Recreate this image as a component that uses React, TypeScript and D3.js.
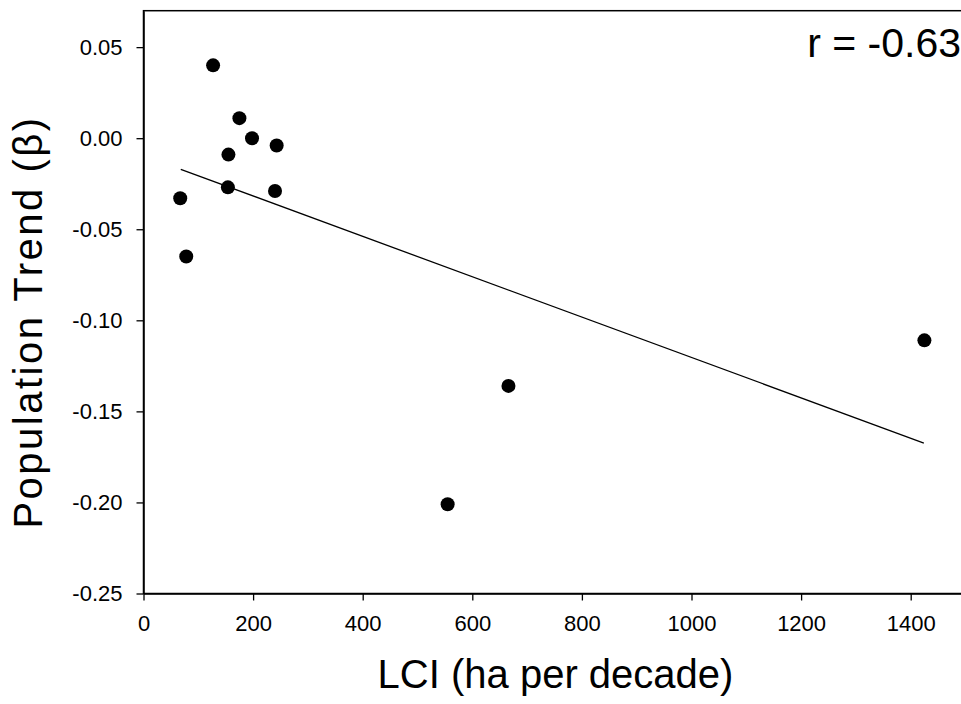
import React, { useEffect, useRef } from 'react';
import * as d3 from 'd3';

// LCI (ha per decade) and population trend (beta) per species
const lciValues = [127, 175, 198, 243, 155, 154, 240, 67, 78, 666, 1425, 555];
const trendValues = [0.040, 0.011, 0.000, -0.004, -0.009, -0.027, -0.029, -0.033, -0.065, -0.136, -0.111, -0.201];

// fitted regression line end points
const fitX = [68, 1424];
const fitY = [-0.0171, -0.1674];

const xTicks = [0, 200, 400, 600, 800, 1000, 1200, 1400];
const yTicks = [-0.25, -0.2, -0.15, -0.1, -0.05, 0, 0.05];

const FONT = "'Liberation Sans', Arial, Helvetica, sans-serif";

const App = () => {
  const chartRef = useRef<SVGSVGElement | null>(null);

  useEffect(() => {
    const width = 961, height = 704;
    const margin = { top: 10.7, right: -4.5, bottom: 110.5, left: 143.5 };

    const svg = d3.select(chartRef.current);
    svg.selectAll('*').remove();

    const x = d3.scaleLinear()
      .domain([0, 1500])
      .range([margin.left, width - margin.right]);

    const y = d3.scaleLinear()
      .domain([-0.25, 0.07])
      .range([height - margin.bottom, margin.top]);

    // frame
    svg.append('rect')
      .attr('x', x(0))
      .attr('y', y(0.07))
      .attr('width', x(1500) - x(0))
      .attr('height', y(-0.25) - y(0.07))
      .attr('fill', 'none')
      .attr('stroke', '#000')
      .attr('stroke-width', 1.5);

    // plain hyphen minus like the original
    const yFmt = (d: number) => d3.format('.2f')(d).replace('\u2212', '-');

    // x axis
    const xAxis = svg.append('g')
      .attr('transform', `translate(0,${y(-0.25)})`)
      .call(d3.axisBottom(x).tickValues(xTicks).tickFormat(d3.format('d')).tickSize(7).tickPadding(15).tickSizeOuter(0));
    xAxis.select('.domain').attr('stroke-width', 1.5);
    xAxis.selectAll('.tick line').attr('stroke-width', 1.3);
    xAxis.selectAll('text').style('font-size', '22px').style('font-family', FONT).attr('fill', '#000');

    // y axis
    const yAxis = svg.append('g')
      .attr('transform', `translate(${x(0)},0)`)
      .call(d3.axisLeft(y).tickValues(yTicks).tickFormat(yFmt).tickSize(7).tickPadding(14).tickSizeOuter(0));
    yAxis.select('.domain').attr('stroke-width', 1.5);
    yAxis.selectAll('.tick line').attr('stroke-width', 1.3);
    yAxis.selectAll('text').style('font-size', '22px').style('font-family', FONT).attr('fill', '#000');

    // regression line
    svg.append('line')
      .attr('x1', x(fitX[0]))
      .attr('y1', y(fitY[0]))
      .attr('x2', x(fitX[1]))
      .attr('y2', y(fitY[1]))
      .attr('stroke', '#000')
      .attr('stroke-width', 1.3);

    // points
    svg.selectAll('.dot')
      .data(lciValues.map((v, i) => ({ lci: v, trend: trendValues[i] })))
      .enter()
      .append('circle')
      .attr('class', 'dot')
      .attr('cx', d => x(d.lci))
      .attr('cy', d => y(d.trend))
      .attr('r', 7)
      .attr('fill', '#000');

    // correlation label
    svg.append('text')
      .attr('x', 961)
      .attr('y', 57)
      .attr('text-anchor', 'end')
      .style('font-size', '41px')
      .style('font-family', FONT)
      .text('r = -0.63');

    // axis titles
    svg.append('text')
      .attr('x', 555.5)
      .attr('y', 688)
      .attr('text-anchor', 'middle')
      .style('font-size', '40px')
      .style('font-family', FONT)
      .text('LCI (ha per decade)');

    svg.append('text')
      .attr('transform', 'translate(42,322) rotate(-90)')
      .attr('text-anchor', 'middle')
      .style('font-size', '40px')
      .style('letter-spacing', '2.5px')
      .style('font-family', FONT)
      .text('Population Trend (β)');
  }, []);

  return (
    <svg
      ref={chartRef}
      width={961}
      height={704}
      style={{ position: 'absolute', left: 0, top: 0, background: '#fff' }}
    />
  );
};

export default App;
